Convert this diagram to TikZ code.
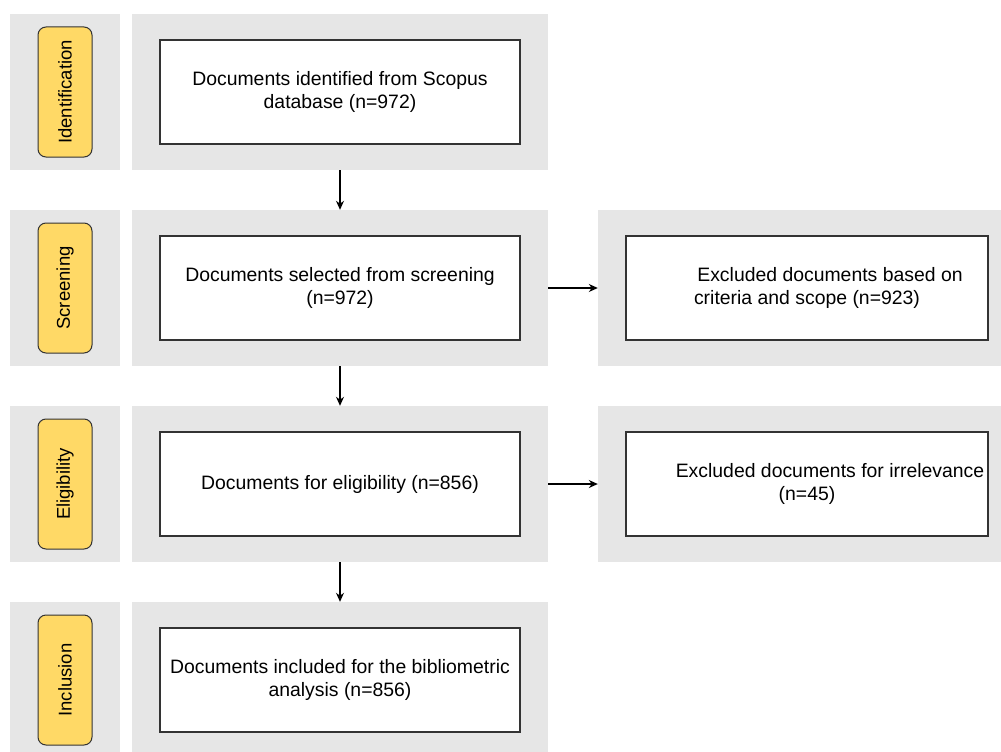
\documentclass[tikz,border=0pt]{standalone}
\usepackage{fontspec}
\setmainfont{Liberation Sans}
\usetikzlibrary{arrows.meta}
\definecolor{panelgray}{HTML}{E6E6E6}
\definecolor{pillyellow}{HTML}{FFD966}
\definecolor{edgegray}{HTML}{333333}
\begin{document}
\begin{tikzpicture}[x=1pt,y=1pt,
 panel/.style={fill=panelgray, draw=none, inner sep=0pt, minimum height=156pt},
 lpanel/.style={panel, minimum width=110pt},
 cpanel/.style={panel, minimum width=416pt},
 rpanel/.style={panel, minimum width=412pt},
 pill/.style={draw=edgegray, fill=pillyellow, rounded corners=8pt, line width=1pt, minimum width=130pt, minimum height=54pt, inner sep=0pt, rotate=90, font=\fontsize{18.5}{21}\selectfont},
 stepbox/.style={draw=edgegray, fill=white, line width=1.2pt, minimum width=360pt, minimum height=104pt, inner sep=0pt, align=center, font=\fontsize{19.4}{22.5}\selectfont},
 exbox/.style={stepbox, minimum width=362pt},
 arr/.style={-{Stealth[length=9pt,width=8pt]}, line width=1.2pt, black}]
\useasboundingbox (0,0) rectangle (1001,-752);
% row 1
\node[lpanel] (l1) at (65,-92) {};
\node[cpanel] (c1) at (340,-92) {};
\node[pill] (p1) at (65,-92) {Identification};
\node[stepbox] (b1) at (340,-92) {Documents identified from Scopus\\database (n=972)};
% row 2
\node[lpanel] (l2) at (65,-288) {};
\node[cpanel] (c2) at (340,-288) {};
\node[rpanel] (r2) at (804,-288) {};
\node[pill] (p2) at (65,-288) {Screening};
\node[stepbox] (b2) at (340,-288) {Documents selected from screening\\(n=972)};
\node[exbox] (e2) at (807,-288) {\hspace*{46pt}Excluded documents based on\\criteria and scope (n=923)};
% row 3
\node[lpanel] (l3) at (65,-484) {};
\node[cpanel] (c3) at (340,-484) {};
\node[rpanel] (r3) at (804,-484) {};
\node[pill] (p3) at (65,-484) {Eligibility};
\node[stepbox] (b3) at (340,-484) {Documents for eligibility (n=856)};
\node[exbox] (e3) at (807,-484) {\hspace*{46pt}Excluded documents for irrelevance\\(n=45)};
% row 4
\node[lpanel, minimum height=160pt] (l4) at (65,-682) {};
\node[cpanel, minimum height=160pt] (c4) at (340,-682) {};
\node[pill] (p4) at (65,-680) {Inclusion};
\node[stepbox] (b4) at (340,-680) {Documents included for the bibliometric\\analysis (n=856)};
% arrows
\draw[arr] (c1.south) -- (c2.north);
\draw[arr] (c2.south) -- (c3.north);
\draw[arr] (c3.south) -- (c4.north);
\draw[arr] (c2.east) -- (r2.west);
\draw[arr] (c3.east) -- (r3.west);
\end{tikzpicture}
\end{document}
